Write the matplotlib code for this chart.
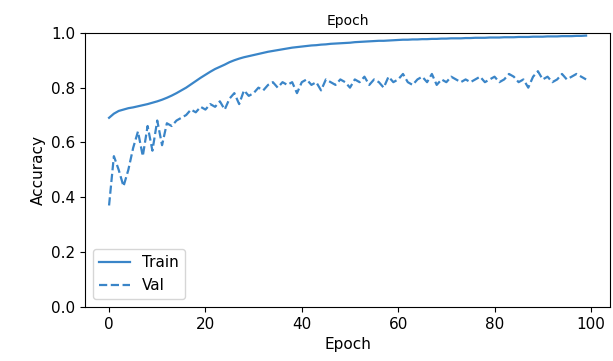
import matplotlib
matplotlib.use("Agg")
import matplotlib.pyplot as plt
import numpy as np

epochs = list(range(100))
train_acc = [0.690, 0.705, 0.715, 0.720, 0.725, 0.728, 0.732, 0.736, 0.740, 0.745,
             0.750, 0.756, 0.763, 0.771, 0.780, 0.790, 0.800, 0.812, 0.824, 0.836,
             0.847, 0.858, 0.868, 0.876, 0.884, 0.893, 0.900, 0.906, 0.911, 0.915,
             0.919, 0.923, 0.927, 0.931, 0.934, 0.937, 0.940, 0.943, 0.946, 0.948,
             0.950, 0.952, 0.954, 0.955, 0.957, 0.958, 0.960, 0.961, 0.962, 0.963,
             0.964, 0.966, 0.967, 0.968, 0.969, 0.970, 0.971, 0.971, 0.972, 0.973,
             0.974, 0.975, 0.975, 0.976, 0.976, 0.977, 0.977, 0.978, 0.978, 0.979,
             0.979, 0.980, 0.980, 0.980, 0.981, 0.981, 0.982, 0.982, 0.982, 0.983,
             0.983, 0.983, 0.984, 0.984, 0.984, 0.985, 0.985, 0.985, 0.986, 0.986,
             0.986, 0.987, 0.987, 0.987, 0.988, 0.988, 0.988, 0.989, 0.989, 0.990]
val_acc = [0.37, 0.55, 0.50, 0.44, 0.50, 0.58, 0.64, 0.55, 0.66, 0.57,
           0.68, 0.59, 0.67, 0.66, 0.68, 0.69, 0.70, 0.72, 0.71, 0.73,
           0.72, 0.74, 0.73, 0.75, 0.72, 0.76, 0.78, 0.74, 0.79, 0.77,
           0.78, 0.80, 0.79, 0.81, 0.82, 0.80, 0.82, 0.81, 0.82, 0.78,
           0.82, 0.83, 0.81, 0.82, 0.79, 0.83, 0.82, 0.81, 0.83, 0.82,
           0.80, 0.83, 0.82, 0.84, 0.81, 0.83, 0.82, 0.80, 0.84, 0.82,
           0.83, 0.85, 0.82, 0.81, 0.83, 0.84, 0.82, 0.85, 0.81, 0.83,
           0.82, 0.84, 0.83, 0.82, 0.83, 0.82, 0.83, 0.84, 0.82, 0.83,
           0.84, 0.82, 0.83, 0.85, 0.84, 0.82, 0.83, 0.80, 0.84, 0.86,
           0.83, 0.84, 0.82, 0.83, 0.85, 0.83, 0.84, 0.85, 0.84, 0.83]

color = "#3a85c8"

fig = plt.figure(figsize=(6.13, 3.61), dpi=100)
ax = fig.add_axes([0.139, 0.150, 0.856, 0.759])
ax.plot(epochs, train_acc, color=color, linestyle="-", linewidth=1.6, label="Train")
ax.plot(epochs, val_acc, color=color, linestyle="--", linewidth=1.6, label="Val")
ax.set_ylim(0, 1.0)
ax.set_title("Epoch", fontsize=10)
ax.set_xlabel("Epoch", fontsize=11)
ax.set_ylabel("Accuracy", fontsize=11)
ax.tick_params(labelsize=11)
ax.legend(loc="lower left", fontsize=11)
fig.savefig("out.png", dpi=100)
